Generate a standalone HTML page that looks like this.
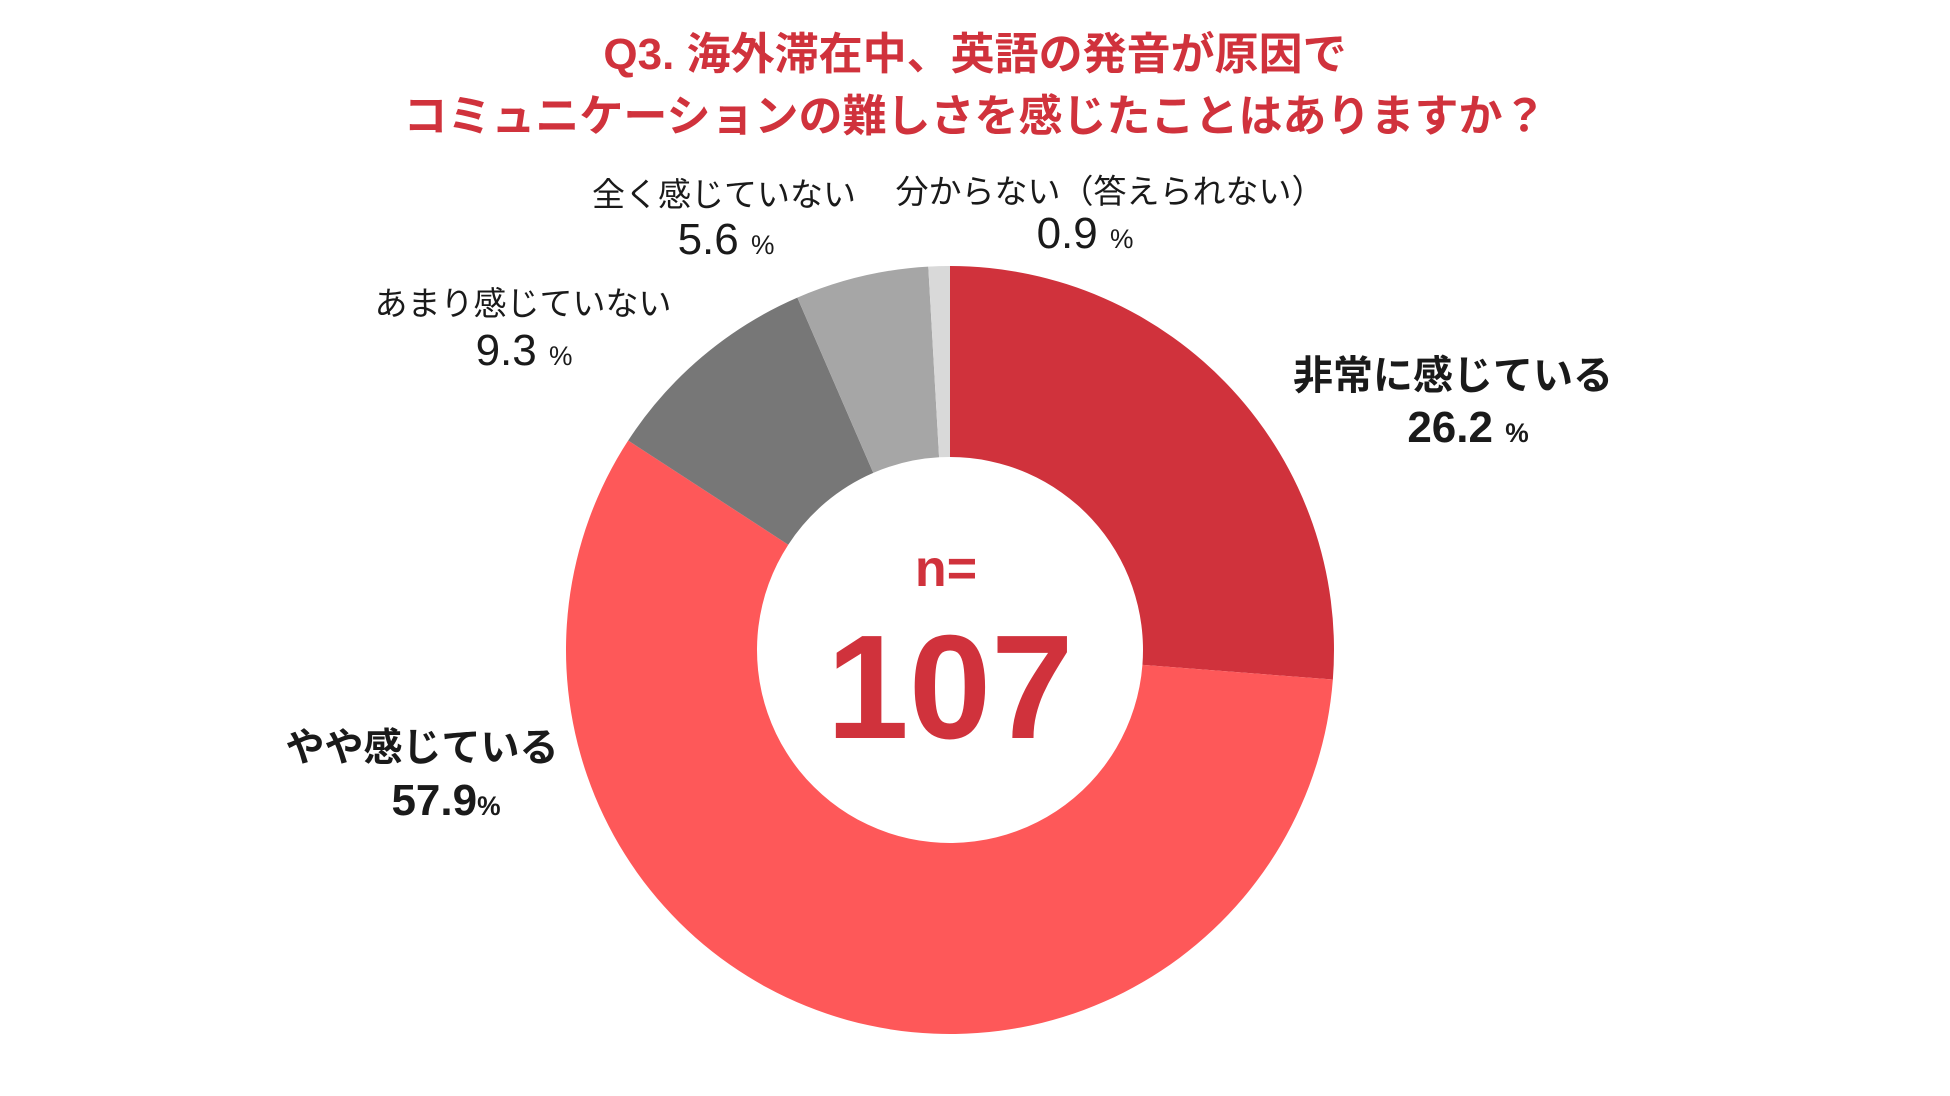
<!DOCTYPE html>
<html><head><meta charset="utf-8"><style>
html,body{margin:0;padding:0;background:#fff;}
body{width:1950px;height:1096px;overflow:hidden;position:relative;font-family:"Liberation Sans","Noto Sans CJK JP",sans-serif;}
.t{position:absolute;white-space:nowrap;transform:translate(-50%,-50%);color:#1a1a1a;}
.title{color:#d0323c;font-weight:bold;font-size:44px;}
.b{font-weight:bold;font-size:39px;}
.n{font-size:33px;}
.pct{font-size:0.6em;}
</style></head><body>
<svg width="1950" height="1096" style="position:absolute;left:0;top:0" id="s"></svg>
<div class="t title" style="left:975px;top:50px">Q3. 海外滞在中、英語の発音が原因で</div>
<div class="t title" style="left:975px;top:112px">コミュニケーションの難しさを感じたことはありますか？</div>
<div class="t b" style="left:1453px;top:372px;font-size:40px">非常に感じている</div>
<div class="t b" style="left:1468px;top:428px;font-size:44px">26.2 <span class="pct">%</span></div>
<div class="t b" style="left:422px;top:745px">やや感じている</div>
<div class="t b" style="left:446px;top:801px;font-size:44px">57.9<span class="pct">%</span></div>
<div class="t n" style="left:523px;top:301px">あまり感じていない</div>
<div class="t n" style="left:524px;top:351px;font-size:44px">9.3 <span class="pct">%</span></div>
<div class="t n" style="left:724px;top:192px">全く感じていない</div>
<div class="t n" style="left:726px;top:240px;font-size:44px">5.6 <span class="pct">%</span></div>
<div class="t n" style="left:1110px;top:189px">分からない（答えられない）</div>
<div class="t n" style="left:1085px;top:234px;font-size:44px">0.9 <span class="pct">%</span></div>
<div class="t" style="left:946px;top:569px;color:#d0323c;font-weight:bold;font-size:52px">n=</div>
<div class="t" style="left:950px;top:688px;color:#d0323c;font-weight:bold;font-size:148px">107</div>
<script>
var cx=950,cy=650,R=384,r=193;
var d=[[26.2,"#d0323c"],[57.9,"#fe5859"],[9.3,"#777777"],[5.6,"#a6a6a6"],[0.9,"#d9d9d9"]];
var tot=99.9,a=0,h="";
function p(rad,ang){return [cx+rad*Math.sin(ang),cy-rad*Math.cos(ang)];}
d.forEach(function(s){var a1=a+s[0]/tot*2*Math.PI;var l=(a1-a)>Math.PI?1:0;
var A=p(R,a),B=p(R,a1),C=p(r,a1),D=p(r,a);
h+='<path fill="'+s[1]+'" d="M'+A+' A'+R+' '+R+' 0 '+l+' 1 '+B+' L'+C+' A'+r+' '+r+' 0 '+l+' 0 '+D+'Z"/>';a=a1;});
document.getElementById("s").innerHTML=h;
</script>
</body></html>
